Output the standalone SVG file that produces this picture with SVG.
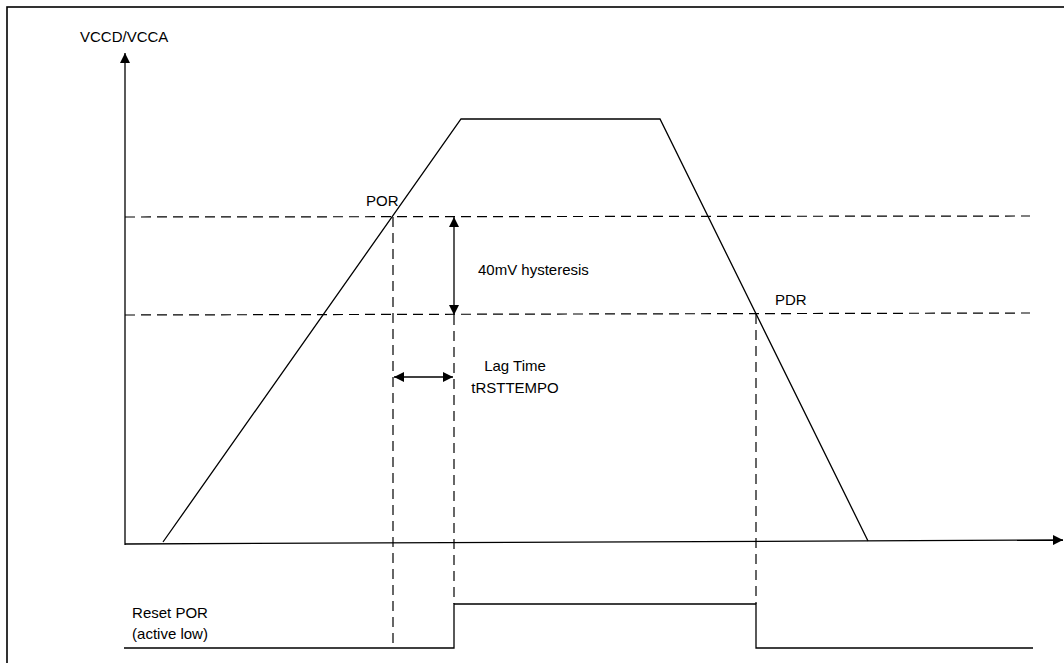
<svg xmlns="http://www.w3.org/2000/svg" width="1064" height="663" viewBox="0 0 1064 663">
<style>
.ln{fill:none;stroke:#000;stroke-width:1.3}
.ds{fill:none;stroke:#000;stroke-width:1.2;stroke-dasharray:10,6}
.t{font-family:"Liberation Sans",Arial,sans-serif;font-size:15px;fill:#000}
</style>
<defs>
<marker id="ah" viewBox="0 0 10 10" refX="10" refY="5" markerWidth="10" markerHeight="10" markerUnits="userSpaceOnUse" orient="auto-start-reverse">
<path d="M0,0 L10,5 L0,10 Z" fill="#000"/>
</marker>
</defs>
<rect x="0" y="0" width="1064" height="663" fill="#fff"/>
<rect x="7" y="7" width="1080" height="680" fill="none" stroke="#000" stroke-width="1.6"/>
<g id="axes">
<line class="ln" x1="125" y1="545" x2="125" y2="53" marker-end="url(#ah)"/>
<line class="ln" x1="125" y1="544" x2="1063" y2="540" marker-end="url(#ah)"/>
<text class="t" x="80" y="42">VCCD/VCCA</text>
</g>
<g id="thresholds">
<line class="ds" x1="125" y1="217" x2="1030" y2="216"/>
<line class="ds" x1="125" y1="315" x2="1030" y2="313"/>
<text class="t" x="366" y="206">POR</text>
<text class="t" x="775" y="305">PDR</text>
</g>
<g id="vcc-curve">
<polyline class="ln" points="163,542 461,119 660,119 868,541"/>
</g>
<g id="reset-signal">
<polyline class="ln" points="124,648 454,648 454,604 756,604 756,648 1033,648"/>
<text class="t" x="170" y="618" text-anchor="middle">Reset POR</text>
<text class="t" x="170" y="639" text-anchor="middle">(active low)</text>
</g>
<g id="connectors">
<line class="ds" x1="393" y1="217" x2="393" y2="648"/>
<line class="ds" x1="454" y1="315" x2="454" y2="604"/>
<line class="ds" x1="756" y1="314" x2="756" y2="604"/>
<line class="ln" x1="454" y1="227" x2="454" y2="305"/>
<line class="ln" x1="454" y1="226" x2="454" y2="217" marker-end="url(#ah)"/>
<line class="ln" x1="454" y1="306" x2="454" y2="315" marker-end="url(#ah)"/>
<line class="ln" x1="394" y1="377" x2="453" y2="377" marker-start="url(#ah)" marker-end="url(#ah)"/>
</g>
<g id="labels">
<text class="t" x="478" y="275">40mV hysteresis</text>
<text class="t" x="515" y="371" text-anchor="middle">Lag Time</text>
<text class="t" x="515" y="393" text-anchor="middle">tRSTTEMPO</text>
</g>
</svg>
